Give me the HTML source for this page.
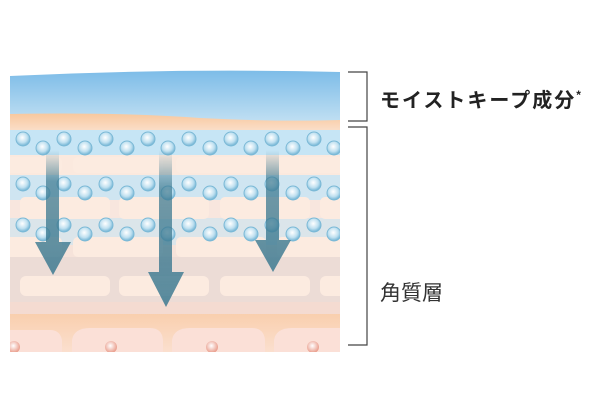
<!DOCTYPE html>
<html><head><meta charset="utf-8"><style>
body{margin:0;background:#fff;width:600px;height:400px;overflow:hidden}
</style></head><body>
<svg width="600" height="400" viewBox="0 0 600 400" xmlns="http://www.w3.org/2000/svg">
<defs>
<linearGradient id="sky" x1="0" y1="0" x2="0" y2="1"><stop offset="0" stop-color="#7dbce8"/><stop offset="1" stop-color="#cbe5f4"/></linearGradient>
<linearGradient id="org" x1="0" y1="0" x2="0" y2="1"><stop offset="0" stop-color="#f8c89e"/><stop offset="1" stop-color="#fbe4d4"/></linearGradient>
<linearGradient id="ar" x1="0" y1="0" x2="0" y2="1"><stop offset="0" stop-color="#3d7a91" stop-opacity="0"/><stop offset="0.25" stop-color="#3d7a91" stop-opacity="0.85"/><stop offset="1" stop-color="#3d7a91"/></linearGradient>
<linearGradient id="bot" x1="0" y1="0" x2="0" y2="1"><stop offset="0" stop-color="#f9cfae"/><stop offset="1" stop-color="#fbe0d0"/></linearGradient>
<radialGradient id="mol" cx="0.45" cy="0.4" r="0.6"><stop offset="0" stop-color="#ffffff"/><stop offset="0.6" stop-color="#bfe0f0"/><stop offset="1" stop-color="#6fb2d3"/></radialGradient>
<radialGradient id="dot" cx="0.45" cy="0.4" r="0.6"><stop offset="0" stop-color="#fff"/><stop offset="1" stop-color="#e99a88"/></radialGradient>
<clipPath id="c"><rect x="10" y="60" width="330" height="292"/></clipPath>
</defs>
<g clip-path="url(#c)">
<path d="M10 76 Q175 68 340 72 L340 130 L10 130 Z" fill="url(#sky)"/>
<path d="M10 114 Q120 112 200 118 Q280 122 340 120 L340 135 L10 135 Z" fill="url(#org)"/>
<rect x="10" y="130" width="330" height="25" fill="#c6e5f5"/>
<rect x="10" y="155" width="330" height="20" fill="#fbe9de"/>
<rect x="10" y="175" width="330" height="25" fill="#cfe5f1"/>
<rect x="10" y="200" width="330" height="18" fill="#f8e6de"/>
<rect x="10" y="218" width="330" height="27" fill="#dbe5ea"/>
<rect x="10" y="245" width="330" height="12" fill="#f6e3da"/>
<rect x="10" y="257" width="330" height="45" fill="#ecdcd6"/>
<rect x="10" y="302" width="330" height="12" fill="#f4dbd1"/>
<rect x="10" y="314" width="330" height="40" fill="url(#bot)"/>
<g fill="#fcebe0">
<rect x="0" y="157" width="62" height="16" rx="5"/><rect x="73" y="157" width="90" height="16" rx="5"/><rect x="176" y="157" width="90" height="16" rx="5"/><rect x="277" y="157" width="70" height="16" rx="5"/>
<rect x="20" y="197" width="90" height="22" rx="5"/><rect x="119" y="197" width="90" height="22" rx="5"/><rect x="220" y="197" width="90" height="22" rx="5"/><rect x="320" y="197" width="40" height="22" rx="5"/>
<rect x="0" y="237" width="62" height="20" rx="5"/><rect x="73" y="237" width="90" height="20" rx="5"/><rect x="176" y="237" width="90" height="20" rx="5"/><rect x="277" y="237" width="70" height="20" rx="5"/>
<rect x="20" y="276" width="90" height="20" rx="6"/><rect x="119" y="276" width="90" height="20" rx="6"/><rect x="220" y="276" width="90" height="20" rx="6"/><rect x="320" y="276" width="40" height="20" rx="6"/>
</g>
<g fill="#fbe0d7">
<path d="M10 352 L10 330 L50 330 Q60 330 62 340 L62 352 Z"/>
<path d="M72 352 L72 340 Q74 328 90 328 L150 328 Q162 328 163 340 L163 352 Z"/>
<path d="M172 352 L172 340 Q174 328 190 328 L252 328 Q264 328 265 340 L265 352 Z"/>
<path d="M274 352 L274 340 Q276 328 292 328 L340 328 L340 352 Z"/>
</g>
<circle cx="14" cy="347" r="6" fill="url(#dot)"/><circle cx="111" cy="347" r="6" fill="url(#dot)"/><circle cx="212" cy="347" r="6" fill="url(#dot)"/><circle cx="313" cy="347" r="6" fill="url(#dot)"/>
<g fill="url(#mol)" stroke="#7bb9d6" stroke-width="1">
<g id="r1">
<circle cx="23" cy="139" r="7"/><circle cx="64" cy="139" r="7"/><circle cx="106" cy="139" r="7"/><circle cx="148" cy="139" r="7"/><circle cx="189" cy="139" r="7"/><circle cx="231" cy="139" r="7"/><circle cx="272" cy="139" r="7"/><circle cx="314" cy="139" r="7"/>
<circle cx="43" cy="148" r="7"/><circle cx="85" cy="148" r="7"/><circle cx="127" cy="148" r="7"/><circle cx="168" cy="148" r="7"/><circle cx="210" cy="148" r="7"/><circle cx="251" cy="148" r="7"/><circle cx="293" cy="148" r="7"/><circle cx="334" cy="148" r="7"/>
</g>
<use href="#r1" y="45"/><use href="#r1" y="86"/>
</g>
<g fill="url(#ar)" opacity="0.85">
<path d="M46 150 L59 150 L59 242 L71 242 L53 275 L35 242 L46 242 Z"/>
<path d="M159 150 L172 150 L172 272 L184 272 L166 307 L148 272 L159 272 Z"/>
<path d="M266 150 L279 150 L279 240 L291 240 L273 272 L255 240 L266 240 Z"/>
</g>
</g>
<g fill="none" stroke="#444" stroke-width="1.2">
<path d="M348 72 L367 72 L367 121 L348 121"/>
<path d="M348 127 L367 127 L367 345 L348 345"/>
</g>
<text x="380" y="107" font-family="'Liberation Sans','Noto Sans CJK JP',sans-serif" font-size="20" font-weight="bold" fill="#222" letter-spacing="2">モイストキープ成分<tspan font-size="12" dy="-8">*</tspan></text>
<text x="380" y="300" font-family="'Liberation Sans','Noto Sans CJK JP',sans-serif" font-size="21" fill="#333">角質層</text>
</svg>
</body></html>
